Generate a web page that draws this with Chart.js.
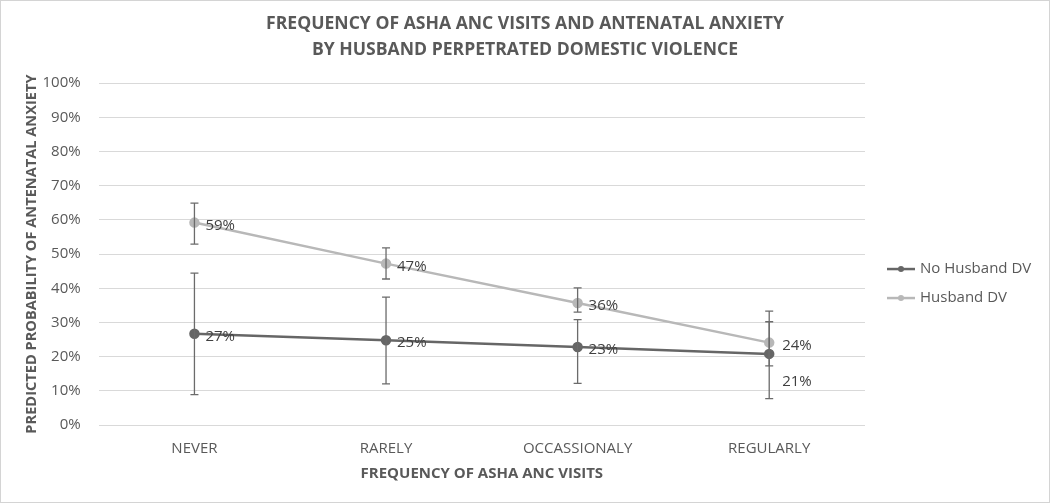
<!DOCTYPE html>
<html lang="en">
<head>
    <meta charset="UTF-8">
    <title>Frequency of ASHA ANC visits and antenatal anxiety</title>
    <script src="https://cdn.jsdelivr.net/npm/chart.js"></script>
    <style>
        body { margin: 0; background: #fff; }
        #wrap {
            width: 1050px;
            height: 503px;
            box-sizing: border-box;
            border: 1px solid #d4d4d4;
            position: relative;
        }
    </style>
</head>
<body>
    <div id="wrap"><canvas id="chart"></canvas></div>

    <script>
        // data (percent)
        const categories = ['NEVER', 'RARELY', 'OCCASSIONALY', 'REGULARLY'];
        const noDv = [26.7, 24.8, 22.8, 20.8];
        const noDvLow = [8.9, 12.0, 12.2, 7.7];
        const noDvHigh = [44.4, 37.4, 30.8, 30.2];
        const dv = [59.2, 47.2, 35.7, 24.1];
        const dvLow = [52.9, 42.7, 33.0, 17.3];
        const dvHigh = [64.9, 51.8, 40.1, 33.3];
        const seriesNames = ['No Husband DV', 'Husband DV'];

        const FONT = "'Open Sans', 'Liberation Sans', sans-serif";
        const textGrey = '#595959';

        // error bars, same dark grey for both series
        const errorBars = {
            id: 'errorBars',
            afterDatasetsDraw(chart) {
                const ctx = chart.ctx;
                const y = chart.scales.y;
                const bounds = [[noDvLow, noDvHigh], [dvLow, dvHigh]];
                ctx.save();
                ctx.strokeStyle = '#6b6b6b';
                ctx.lineWidth = 1.3;
                chart.data.datasets.forEach((ds, i) => {
                    chart.getDatasetMeta(i).data.forEach((pt, j) => {
                        const top = y.getPixelForValue(bounds[i][1][j]);
                        const bot = y.getPixelForValue(bounds[i][0][j]);
                        ctx.beginPath();
                        ctx.moveTo(pt.x, top); ctx.lineTo(pt.x, bot);
                        ctx.moveTo(pt.x - 4, top); ctx.lineTo(pt.x + 4, top);
                        ctx.moveTo(pt.x - 4, bot); ctx.lineTo(pt.x + 4, bot);
                        ctx.stroke();
                    });
                });
                ctx.restore();
            }
        };

        // value labels next to the points
        const valueLabels = {
            id: 'valueLabels',
            afterDraw(chart) {
                const ctx = chart.ctx;
                ctx.save();
                ctx.font = '15px ' + FONT;
                ctx.fillStyle = '#404040';
                ctx.textBaseline = 'middle';
                chart.data.datasets.forEach((ds, i) => {
                    chart.getDatasetMeta(i).data.forEach((pt, j) => {
                        let dx = 11, dy = 3;
                        if (j === 3) dx = 13;
                        if (i === 0 && j === 3) dy = 28;
                        ctx.fillText(Math.round(ds.data[j]) + '%', pt.x + dx, pt.y + dy);
                    });
                });
                ctx.restore();
            }
        };

        // legend on the right, line with marker like the original
        const sideLegend = {
            id: 'sideLegend',
            afterDraw(chart) {
                const ctx = chart.ctx;
                const area = chart.chartArea;
                const x0 = area.right + 22;
                const yc = (area.top + area.bottom) / 2 + 15;
                ctx.save();
                ctx.font = '15px ' + FONT;
                ctx.textBaseline = 'middle';
                chart.data.datasets.forEach((ds, i) => {
                    const yy = yc + i * 29;
                    ctx.strokeStyle = ds.borderColor;
                    ctx.lineWidth = ds.borderWidth;
                    ctx.beginPath();
                    ctx.moveTo(x0, yy); ctx.lineTo(x0 + 28, yy);
                    ctx.stroke();
                    ctx.fillStyle = ds.borderColor;
                    ctx.beginPath();
                    ctx.arc(x0 + 14, yy, 3, 0, Math.PI * 2);
                    ctx.fill();
                    ctx.fillStyle = textGrey;
                    ctx.fillText(ds.label, x0 + 33, yy);
                });
                ctx.restore();
            }
        };

        const ctx = document.getElementById('chart').getContext('2d');
        const chart = new Chart(ctx, {
            type: 'line',
            data: {
                labels: categories,
                datasets: [
                    {
                        label: seriesNames[0],
                        data: noDv,
                        borderColor: '#666666',
                        backgroundColor: '#666666',
                        borderWidth: 2.5,
                        pointRadius: 4,
                        pointHoverRadius: 4
                    },
                    {
                        label: seriesNames[1],
                        data: dv,
                        borderColor: '#b8b8b8',
                        backgroundColor: '#b8b8b8',
                        borderWidth: 2.5,
                        pointRadius: 4,
                        pointHoverRadius: 4
                    }
                ]
            },
            options: {
                responsive: true,
                maintainAspectRatio: false,
                animation: false,
                layout: { padding: { top: 10, right: 0, bottom: 19, left: 0 } },
                plugins: {
                    legend: { display: false },
                    tooltip: { enabled: false },
                    title: {
                        display: true,
                        text: ['FREQUENCY OF ASHA ANC VISITS AND ANTENATAL ANXIETY',
                               'BY HUSBAND PERPETRATED DOMESTIC VIOLENCE'],
                        color: textGrey,
                        font: { family: FONT, size: 17.6, weight: 'bold', lineHeight: 1.48 },
                        padding: { top: 0, bottom: 20 }
                    }
                },
                scales: {
                    x: {
                        offset: true,
                        grid: { display: false },
                        border: { display: false },
                        ticks: { color: textGrey, font: { family: FONT, size: 15 }, padding: 7 },
                        title: {
                            display: true,
                            text: 'FREQUENCY OF ASHA ANC VISITS',
                            color: textGrey,
                            font: { family: FONT, size: 15, weight: 'bold' },
                            padding: { top: 0, bottom: 0 }
                        }
                    },
                    y: {
                        min: 0,
                        max: 100,
                        ticks: {
                            stepSize: 10,
                            color: textGrey,
                            font: { family: FONT, size: 15 },
                            padding: 18,
                            callback: v => v + '%'
                        },
                        grid: { color: '#d9d9d9', lineWidth: 1, drawTicks: false },
                        border: { display: false },
                        title: {
                            display: true,
                            text: 'PREDICTED PROBABILITY OF ANTENATAL ANXIETY',
                            color: textGrey,
                            font: { family: FONT, size: 14.6, weight: 'bold' },
                            padding: { top: 22, bottom: -16 }
                        }
                    },
                    // empty axis that only keeps room for the legend on the right
                    side: {
                        type: 'linear',
                        position: 'right',
                        min: 0,
                        max: 1,
                        grid: { display: false },
                        border: { display: false },
                        ticks: { display: false },
                        afterFit: s => { s.width = 184; }
                    }
                }
            },
            plugins: [errorBars, valueLabels, sideLegend]
        });
    </script>
</body>
</html>
